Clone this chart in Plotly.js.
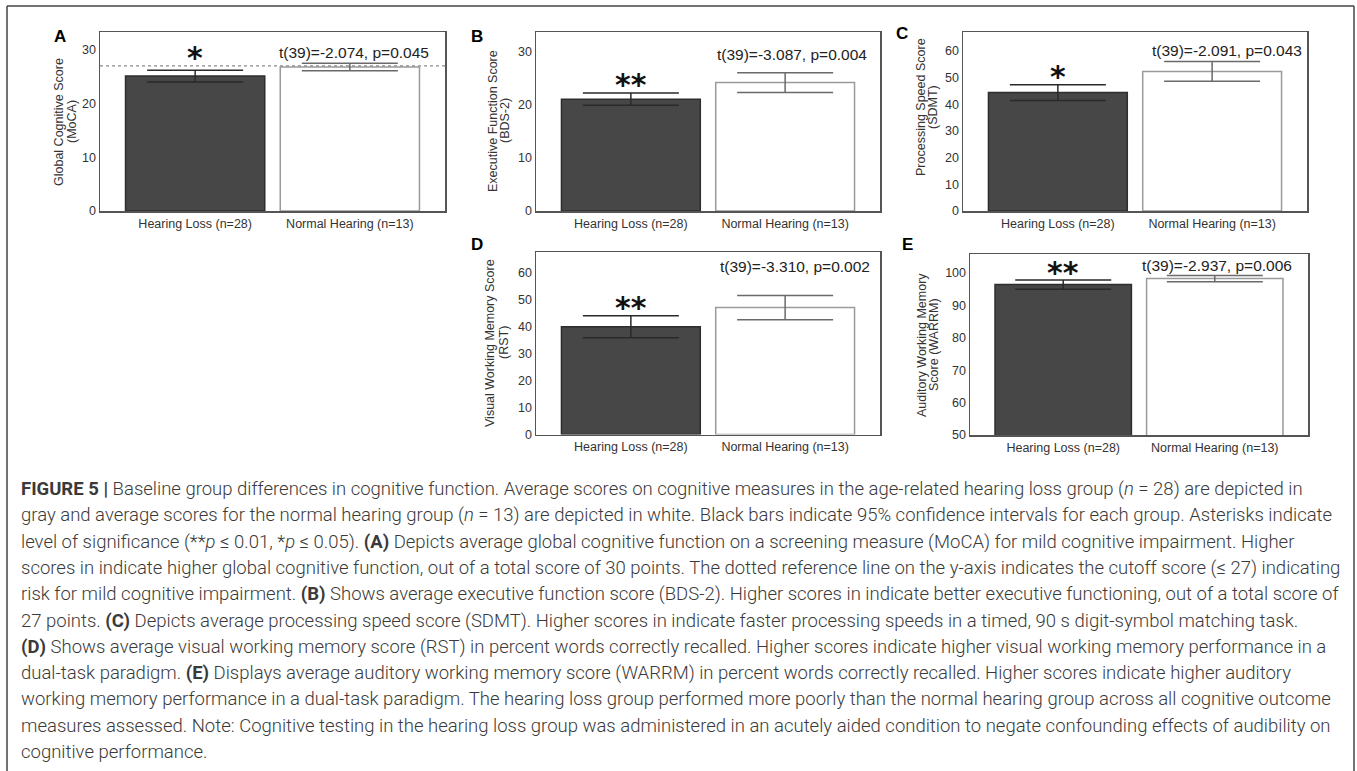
<!DOCTYPE html>
<html><head><meta charset="utf-8">
<script src="https://cdn.plot.ly/plotly-3.0.1.min.js"></script>
<style>html,body{margin:0;padding:0;background:#fff;} #chart{width:1357px;height:771px;}</style>
</head><body><div id="chart"></div>
<script>
// ---------- data ----------
const groups = ['Hearing Loss (n=28)', 'Normal Hearing (n=13)'];
const mocaMean = [25.1, 26.8];
const mocaCI = [1.1, 0.7];
const bdsMean = [21.0, 24.1];
const bdsCI = [1.15, 1.85];
const sdmtMean = [44.4, 52.3];
const sdmtCI = [2.95, 3.7];
const rstMean = [39.9, 47.0];
const rstCI = [4.1, 4.45];
const warrmMean = [96.45, 98.3];
const warrmCI = [1.4, 0.95];
const mocaCutoff = 27;

const panelLetters = ['A', 'B', 'C', 'D', 'E'];
const statTexts = ['t(39)=-2.074, p=0.045', 't(39)=-3.087, p=0.004', 't(39)=-2.091, p=0.043',
                   't(39)=-3.310, p=0.002', 't(39)=-2.937, p=0.006'];
const sigMarks = ['*', '**', '*', '**', '**'];
const yTitles = [['Global Cognitive Score', '(MoCA)'], ['Executive Function Score', '(BDS-2)'],
                 ['Processing Speed Score', '(SDMT)'], ['Visual Working Memory Score', '(RST)'],
                 ['Auditory Working Memory', 'Score (WARRM)']];
const yTickVals = [[0, 10, 20, 30], [0, 10, 20, 30], [0, 10, 20, 30, 40, 50, 60],
                   [0, 10, 20, 30, 40, 50, 60], [50, 60, 70, 80, 90, 100]];
const yRanges = [[0, 33.3], [0, 33.6], [0, 67.1], [0, 67.6], [50, 105.9]];

const captionLines = [
  '<b>FIGURE 5 |</b> Baseline group differences in cognitive function. Average scores on cognitive measures in the age-related hearing loss group (<i>n</i> = 28) are depicted in',
  'gray and average scores for the normal hearing group (<i>n</i> = 13) are depicted in white. Black bars indicate 95% confidence intervals for each group. Asterisks indicate',
  'level of significance (**<i>p</i> ≤ 0.01, *<i>p</i> ≤ 0.05). <b>(A)</b> Depicts average global cognitive function on a screening measure (MoCA) for mild cognitive impairment. Higher',
  'scores in indicate higher global cognitive function, out of a total score of 30 points. The dotted reference line on the y-axis indicates the cutoff score (≤ 27) indicating',
  'risk for mild cognitive impairment. <b>(B)</b> Shows average executive function score (BDS-2). Higher scores in indicate better executive functioning, out of a total score of',
  '27 points. <b>(C)</b> Depicts average processing speed score (SDMT). Higher scores in indicate faster processing speeds in a timed, 90 s digit-symbol matching task.',
  '<b>(D)</b> Shows average visual working memory score (RST) in percent words correctly recalled. Higher scores indicate higher visual working memory performance in a',
  'dual-task paradigm. <b>(E)</b> Displays average auditory working memory score (WARRM) in percent words correctly recalled. Higher scores indicate higher auditory',
  'working memory performance in a dual-task paradigm. The hearing loss group performed more poorly than the normal hearing group across all cognitive outcome',
  'measures assessed. Note: Cognitive testing in the hearing loss group was administered in an acutely aided condition to negate confounding effects of audibility on',
  'cognitive performance.'
];

const means = [mocaMean, bdsMean, sdmtMean, rstMean, warrmMean];
const cis = [mocaCI, bdsCI, sdmtCI, rstCI, warrmCI];

// ---------- geometry (pixels) ----------
const W = 1357, H = 771;
const px = v => v / W;
const py = v => 1 - v / H;
const boxes = [
  {l: 100, r: 445, t: 32, b: 211},
  {l: 536, r: 880, t: 32, b: 211},
  {l: 963, r: 1307, t: 32, b: 211},
  {l: 536, r: 880, t: 252, b: 434.5},
  {l: 970, r: 1308, t: 254, b: 435}
];
const letterPos = [[60, 36], [477, 36], [902, 34], [477, 244], [907, 244]];
const statPos = [[431, 53], [869, 55], [1304, 51], [872, 266], [1294, 265]];
const yTitlePos = [[[59, 72], 122], [[493, 505], 121], [[921, 933], 107], [[490, 504], 343], [[922, 934], 345]];
const sigShift = [13, 8, 8, 8, 8];

const barFill = ['#474747', '#ffffff'];
const barLine = ['#2e2e2e', '#9a9a9a'];
const errColor = ['#2a2a2a', '#6a6a6a'];

const data = [];
const layout = {
  width: W, height: H,
  margin: {l: 0, r: 0, t: 0, b: 0},
  paper_bgcolor: '#ffffff', plot_bgcolor: '#ffffff',
  showlegend: false, barmode: 'overlay',
  font: {family: 'Liberation Sans, Arial, sans-serif', color: '#333'},
  annotations: [], shapes: []
};

boxes.forEach((b, i) => {
  const xa = 'xaxis' + (i === 0 ? '' : i + 1);
  const ya = 'yaxis' + (i === 0 ? '' : i + 1);
  const xr = 'x' + (i === 0 ? '' : i + 1);
  const yr = 'y' + (i === 0 ? '' : i + 1);
  [0, 1].forEach(g => {
    data.push({
      type: 'bar', x: [g], y: [means[i][g]], width: 0.9,
      xaxis: xr, yaxis: yr,
      marker: {color: barFill[g], line: {color: barLine[g], width: 1.5}},
      error_y: {type: 'data', array: [cis[i][g]], visible: true, color: errColor[g], thickness: 1.5, width: 48},
      hoverinfo: 'skip'
    });
  });
  layout[xa] = {
    domain: [px(b.l), px(b.r)], anchor: yr, range: [-0.615, 1.615],
    tickvals: [0, 1], ticktext: groups, ticks: '',
    showline: true, mirror: true, linecolor: '#555', linewidth: 1.5,
    showgrid: false, zeroline: false, fixedrange: true,
    tickfont: {size: 12.5, color: '#333'}
  };
  layout[ya] = {
    domain: [py(b.b), py(b.t)], anchor: xr, range: yRanges[i],
    tickvals: yTickVals[i], ticks: '',
    showline: true, mirror: true, linecolor: '#555', linewidth: 1.5,
    showgrid: false, zeroline: false, fixedrange: true,
    tickfont: {size: 12.5, color: '#333'}
  };
  // panel letter
  layout.annotations.push({
    xref: 'paper', yref: 'paper', x: px(letterPos[i][0]), y: py(letterPos[i][1]),
    text: '<b>' + panelLetters[i] + '</b>', showarrow: false, xanchor: 'center', yanchor: 'middle',
    font: {size: 17, color: '#000'}
  });
  // stat text
  layout.annotations.push({
    xref: 'paper', yref: 'paper', x: px(statPos[i][0]), y: py(statPos[i][1]),
    text: statTexts[i], showarrow: false, xanchor: 'right', yanchor: 'middle',
    font: {size: 15.5, color: '#222'}
  });
  // y title (two lines)
  yTitles[i].forEach((t, k) => {
    layout.annotations.push({
      xref: 'paper', yref: 'paper', x: px(yTitlePos[i][0][k]), y: py(yTitlePos[i][1]),
      text: t, showarrow: false, textangle: -90, xanchor: 'center', yanchor: 'middle',
      font: {size: 12.5, color: '#333'}
    });
  });
  // significance asterisks on the hearing-loss bar
  layout.annotations.push({
    xref: xr, yref: yr, x: 0, y: means[i][0] + cis[i][0],
    text: '<b>' + sigMarks[i] + '</b>', showarrow: false, xanchor: 'center', yanchor: 'middle',
    yshift: sigShift[i],
    font: {family: 'DejaVu Sans', size: 30, color: '#111'}
  });
});

// MoCA cutoff dotted line
layout.shapes.push({
  type: 'line', xref: 'x domain', yref: 'y', x0: 0, x1: 1, y0: mocaCutoff, y1: mocaCutoff,
  line: {color: '#8a8a8a', width: 1.2, dash: 'dot'}
});

// outer frame
layout.shapes.push({type: 'line', xref: 'paper', yref: 'paper', x0: px(7), x1: px(1354), y0: py(6), y1: py(6), line: {color: '#444', width: 1.5}});
layout.shapes.push({type: 'line', xref: 'paper', yref: 'paper', x0: px(7), x1: px(7), y0: py(6), y1: 0, line: {color: '#444', width: 1.5}});
layout.shapes.push({type: 'line', xref: 'paper', yref: 'paper', x0: px(1354), x1: px(1354), y0: py(6), y1: 0, line: {color: '#444', width: 1.5}});

// caption
captionLines.forEach((t, k) => {
  layout.annotations.push({
    xref: 'paper', yref: 'paper', x: px(19), y: py(489 + k * 26.3),
    text: t, showarrow: false, xanchor: 'left', yanchor: 'middle', align: 'left',
    font: {family: 'Roboto, Liberation Sans, sans-serif', size: 18.5, color: '#3a3a3a', weight: 300}
  });
});

Plotly.newPlot('chart', data, layout, {displayModeBar: false, staticPlot: true});
</script>
</body></html>
